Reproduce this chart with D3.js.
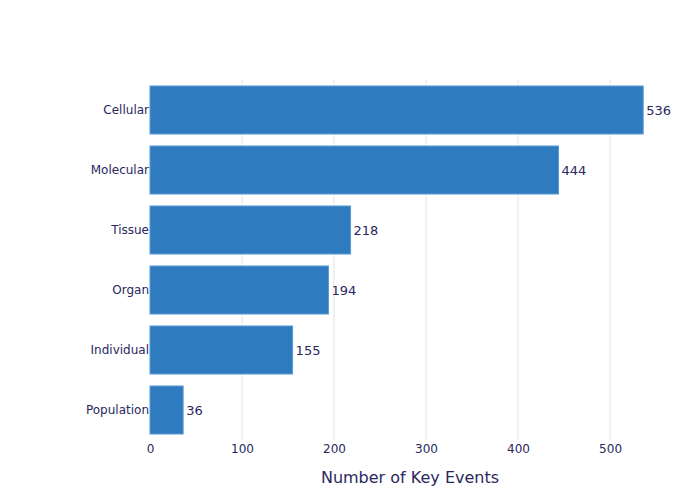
<!DOCTYPE html>
<html><head><meta charset="utf-8">
<script src="https://cdn.jsdelivr.net/npm/d3@7"></script>
<style>body{margin:0;background:#fff;}svg{font-family:"DejaVu Sans",sans-serif;}</style>
</head><body><svg id="c" width="700" height="500"></svg>
<script>
const categories = ["Cellular","Molecular","Tissue","Organ","Individual","Population"];
const values = [536,444,218,194,155,36];
const xTicks = [0,100,200,300,400,500];
const xTitle = "Number of Key Events";

const svg = d3.select("#c");
const m = {l:150, r:20, t:80, b:60};
const W = 700, H = 500;
const x = d3.scaleLinear().domain([0,576]).range([m.l, W-m.r]);
const y = d3.scaleBand().domain(categories).range([m.t, H-m.b]).paddingInner(0.2).paddingOuter(0.1);
const txt = "#2a2860";

svg.append("g").selectAll("line").data(xTicks.filter(d=>d>0)).join("line")
  .attr("x1",d=>x(d)).attr("x2",d=>x(d)).attr("y1",m.t).attr("y2",H-m.b)
  .attr("stroke","#e5e5e5").attr("stroke-width",1);

svg.append("g").selectAll("rect").data(values).join("rect")
  .attr("x",x(0)).attr("y",(d,i)=>y(categories[i]))
  .attr("width",d=>x(d)-x(0)).attr("height",y.bandwidth())
  .attr("fill","#2f7bbf").attr("stroke","#5b9bd5").attr("stroke-width",1);

svg.append("g").selectAll("text").data(values).join("text")
  .attr("x",d=>x(d)+3).attr("y",(d,i)=>y(categories[i])+y.bandwidth()/2)
  .attr("dy","0.35em").attr("font-size",13).attr("fill",txt).text(d=>d);

const xa = svg.append("g").attr("transform",`translate(0,${H-m.b})`)
  .call(d3.axisBottom(x).tickValues(xTicks).tickSize(0).tickPadding(4));
xa.select(".domain").remove();
xa.selectAll("text").attr("font-size",12).attr("fill",txt).attr("font-family","DejaVu Sans");

const ya = svg.append("g").attr("transform",`translate(${m.l},0)`)
  .call(d3.axisLeft(y).tickSize(0).tickPadding(1));
ya.select(".domain").remove();
ya.selectAll("text").attr("font-size",12).attr("fill",txt).attr("font-family","DejaVu Sans");

svg.append("text").attr("x",(m.l+W-m.r)/2 - 5).attr("y",483).attr("text-anchor","middle")
  .attr("font-size",16).attr("fill",txt).text(xTitle);
</script></body></html>
